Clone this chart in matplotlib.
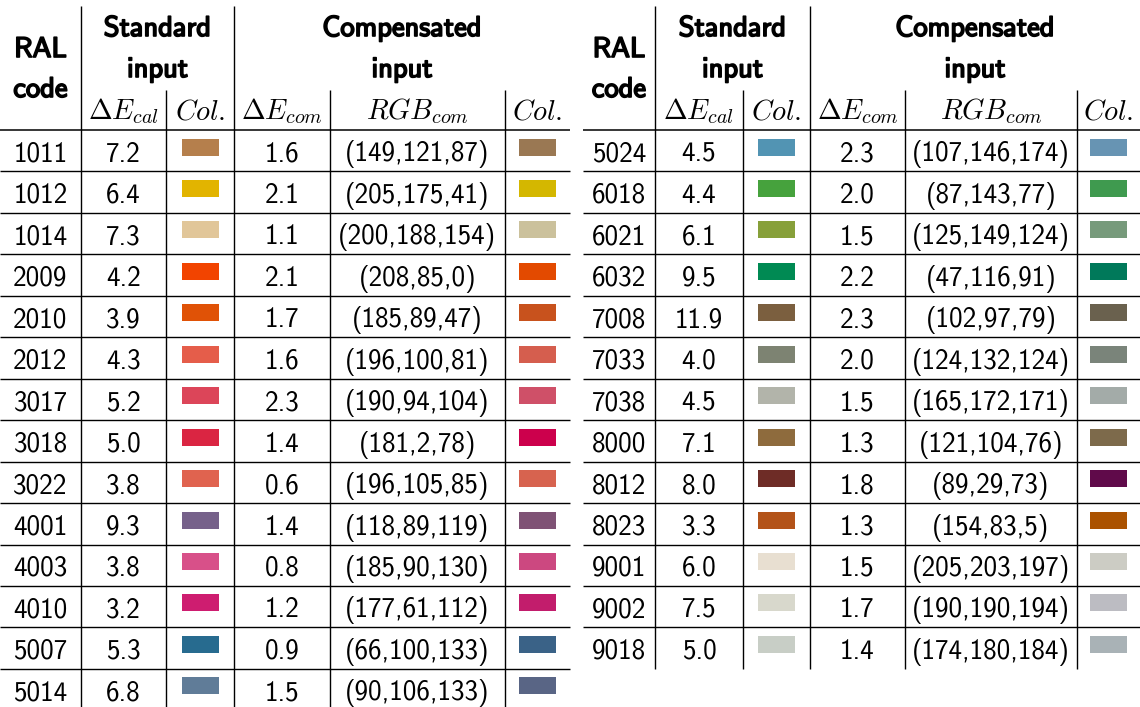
import matplotlib
matplotlib.use("Agg")
import matplotlib.pyplot as plt
from matplotlib.patches import Rectangle
import matplotlib.patheffects as pe

plt.rcParams['mathtext.fontset'] = 'cm'

# ---------------- data ----------------
left_codes = ["1011", "1012", "1014", "2009", "2010", "2012", "3017", "3018",
              "3022", "4001", "4003", "4010", "5007", "5014"]
left_de_cal = [7.2, 6.4, 7.3, 4.2, 3.9, 4.3, 5.2, 5.0, 3.8, 9.3, 3.8, 3.2, 5.3, 6.8]
left_de_com = [1.6, 2.1, 1.1, 2.1, 1.7, 1.6, 2.3, 1.4, 0.6, 1.4, 0.8, 1.2, 0.9, 1.5]
left_rgb_com = [(149, 121, 87), (205, 175, 41), (200, 188, 154), (208, 85, 0),
                (185, 89, 47), (196, 100, 81), (190, 94, 104), (181, 2, 78),
                (196, 105, 85), (118, 89, 119), (185, 90, 130), (177, 61, 112),
                (66, 100, 133), (90, 106, 133)]
left_col_std = ["#B57F4C", "#E2B400", "#E1C699", "#F24400", "#E05206", "#E55D4A",
                "#DC4559", "#DA2542", "#E0634F", "#76618A", "#D85089", "#CE1D70",
                "#276B8F", "#607C98"]
left_col_com = ["#9A7853", "#D4B700", "#CBC19C", "#E34A00", "#C8521D", "#D55E4E",
                "#CF5068", "#CC004C", "#D7634F", "#7F5275", "#CC4880", "#C21D6C",
                "#3A6287", "#596585"]

right_codes = ["5024", "6018", "6021", "6032", "7008", "7033", "7038", "8000",
               "8012", "8023", "9001", "9002", "9018"]
right_de_cal = [4.5, 4.4, 6.1, 9.5, 11.9, 4.0, 4.5, 7.1, 8.0, 3.3, 6.0, 7.5, 5.0]
right_de_com = [2.3, 2.0, 1.5, 2.2, 2.3, 2.0, 1.5, 1.3, 1.8, 1.3, 1.5, 1.7, 1.4]
right_rgb_com = [(107, 146, 174), (87, 143, 77), (125, 149, 124), (47, 116, 91),
                 (102, 97, 79), (124, 132, 124), (165, 172, 171), (121, 104, 76),
                 (89, 29, 73), (154, 83, 5), (205, 203, 197), (190, 190, 194),
                 (174, 180, 184)]
right_col_std = ["#5294B3", "#46A23D", "#87A03A", "#008A53", "#7B5F3F", "#7D8372",
                 "#B2B4AA", "#8E6B3D", "#6E2C26", "#B35319", "#E8DFD1", "#D8D8CC",
                 "#C8CEC6"]
right_col_com = ["#6794B3", "#3F9A4F", "#779A7B", "#00795A", "#6A614E", "#7A847A",
                 "#A3ABA8", "#7D6A4B", "#600A4A", "#AB5200", "#CCCCC4", "#BCBCC2",
                 "#A9B2B6"]

# ---------------- layout ----------------
W, H = 1140, 707
fig = plt.figure(figsize=(W / 100, H / 100), dpi=100)
ax = fig.add_axes([0, 0, 1, 1])
ax.set_xlim(0, W)
ax.set_ylim(H, 0)
ax.axis('off')

FS = 19.5
FS_HDR = 20.5
FS_SUB = 20.5
SANS = 'cmss10'
bold_fx = [pe.withStroke(linewidth=1.2, foreground='black')]

HEADER_Y = 130
ROW_H = 41.45
TOP_Y = 6
SUB_Y = 90


def draw_table(edges, codes, de_cal, de_com, rgb, col_std, col_com, bottom):
    x0, xa, xb, xc, xd, xe, x1 = edges
    n = len(codes)
    lw = 1.0
    # vertical rules
    for x in (xa, xc):
        ax.plot([x, x], [TOP_Y, bottom], color='black', lw=lw, solid_capstyle='butt')
    for x in (xb, xd, xe):
        ax.plot([x, x], [SUB_Y, bottom], color='black', lw=lw, solid_capstyle='butt')
    # horizontal rules
    ax.plot([x0, x1], [HEADER_Y, HEADER_Y], color='black', lw=1.1, solid_capstyle='butt')
    for k in range(1, n):
        y = HEADER_Y + ROW_H * k
        ax.plot([x0, x1], [y, y], color='black', lw=lw, solid_capstyle='butt')
    # header text
    cx_ral = (x0 + xa) / 2
    cx_std = (xa + xc) / 2
    cx_com = (xc + x1) / 2
    hdr = dict(fontsize=FS_HDR, family=SANS, ha='center', va='baseline', path_effects=bold_fx)
    ax.text(cx_ral, 57, "RAL", **hdr)
    ax.text(cx_ral, 97, "code", **hdr)
    ax.text(cx_std, 36, "Standard", **hdr)
    ax.text(cx_std, 77, "input", **hdr)
    ax.text(cx_com, 36, "Compensated", **hdr)
    ax.text(cx_com, 77, "input", **hdr)
    sub = dict(fontsize=FS_SUB, ha='center', va='baseline')
    ax.text((xa + xb) / 2, 119.5, r"$\Delta E_{cal}$", **sub)
    ax.text((xb + xc) / 2, 119.5, r"$Col.$", **sub)
    ax.text((xc + xd) / 2, 119.5, r"$\Delta E_{com}$", **sub)
    ax.text((xd + xe) / 2, 119.5, r"$RGB_{com}$", **sub)
    ax.text((xe + x1) / 2, 119.5, r"$Col.$", **sub)
    # rows
    cell = dict(fontsize=FS, family=SANS, ha='center', va='baseline')
    sw, sh = 37, 17
    for i in range(n):
        top = HEADER_Y + ROW_H * i
        base = top + 31.5
        ax.text(cx_ral, base, codes[i], **cell)
        ax.text((xa + xb) / 2, base, f"{de_cal[i]:.1f}", **cell)
        ax.text((xc + xd) / 2, base, f"{de_com[i]:.1f}", **cell)
        r, g, b = rgb[i]
        ax.text((xd + xe) / 2, base, f"({r},{g},{b})", **cell)
        for cx, col in (((xb + xc) / 2, col_std[i]), ((xe + x1) / 2, col_com[i])):
            ax.add_patch(Rectangle((cx - sw / 2, top + 8.5), sw, sh,
                                   facecolor=col, edgecolor='none'))


draw_table((0, 81, 166, 234, 330, 505, 570), left_codes, left_de_cal, left_de_com,
           left_rgb_com, left_col_std, left_col_com, H)
draw_table((583, 655, 743, 810, 905, 1077, 1140), right_codes, right_de_cal, right_de_com,
           right_rgb_com, right_col_std, right_col_com, HEADER_Y + ROW_H * len(right_codes))

fig.savefig("out.png", dpi=100, facecolor='white')
